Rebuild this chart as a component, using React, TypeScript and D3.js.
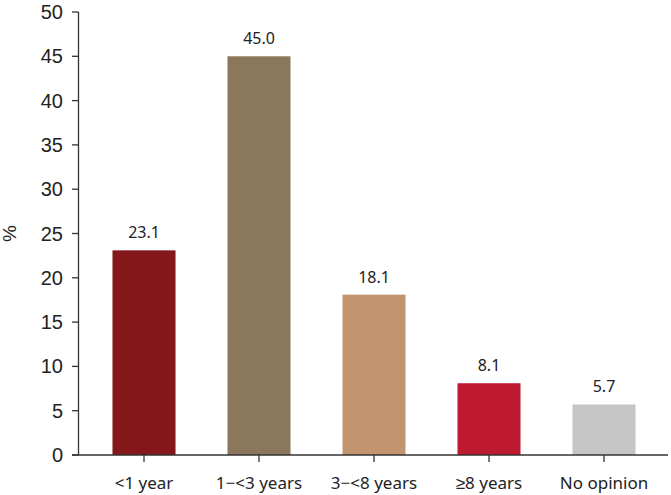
import React from 'react'
import * as d3 from 'd3'

const categories = ['<1 year', '1\u2212<3 years', '3\u2212<8 years', '\u22658 years', 'No opinion']
const values = [23.1, 45.0, 18.1, 8.1, 5.7]
const colors = ['#84171a', '#8b775c', '#c3956e', '#bd1a32', '#c6c6c6']
const yTicks = [0, 5, 10, 15, 20, 25, 30, 35, 40, 45, 50]

const width = 671
const height = 495

export default function App() {
  const x = d3
    .scaleBand()
    .domain(categories)
    .range([86.5, 661.5])
    .paddingInner(0.452)
    .paddingOuter(0.226)
  const y = d3.scaleLinear().domain([0, 50]).range([455, 12])
  const axisX = 78.5

  return (
    <svg
      width={width}
      height={height}
      style={{ position: 'absolute', left: 0, top: 0, background: '#fff' }}
    >
      {categories.map((c, i) => (
        <rect
          key={c}
          x={x(c)}
          y={y(values[i])}
          width={x.bandwidth()}
          height={y(0) - y(values[i])}
          fill={colors[i]}
        />
      ))}
      {categories.map((c, i) => (
        <text
          key={'v' + c}
          x={x(c)! + x.bandwidth() / 2}
          y={y(values[i]) - 12}
          textAnchor="middle"
          fontFamily="'Noto Sans', sans-serif"
          fontSize={16}
          fill="#222"
        >
          {values[i].toFixed(1)}
        </text>
      ))}
      <g stroke="#333" strokeWidth={1.3} fill="none">
        <line x1={axisX} x2={axisX} y1={y(50)} y2={y(0)} />
        <line x1={72} x2={668} y1={y(0)} y2={y(0)} />
        {yTicks.map((t) => (
          <line key={t} x1={72} x2={axisX} y1={y(t)} y2={y(t)} />
        ))}
        {categories.map((c) => (
          <line
            key={c}
            x1={x(c)! + x.bandwidth() / 2}
            x2={x(c)! + x.bandwidth() / 2}
            y1={y(0)}
            y2={y(0) + 7}
          />
        ))}
      </g>
      {yTicks.map((t) => (
        <text
          key={t}
          x={63}
          y={y(t)}
          dy="0.35em"
          textAnchor="end"
          fontFamily="'Liberation Sans', Arial, sans-serif"
          fontSize={20}
          fill="#222"
        >
          {t}
        </text>
      ))}
      {categories.map((c) => (
        <text
          key={'l' + c}
          x={x(c)! + x.bandwidth() / 2}
          y={489}
          textAnchor="middle"
          fontFamily="'Noto Sans', sans-serif"
          fontSize={17}
          fill="#222"
        >
          {c}
        </text>
      ))}
      <text
        transform={`translate(16,${y(25)}) rotate(-90)`}
        textAnchor="middle"
        fontFamily="'Liberation Sans', Arial, sans-serif"
        fontSize={19}
        fill="#222"
      >
        %
      </text>
    </svg>
  )
}
